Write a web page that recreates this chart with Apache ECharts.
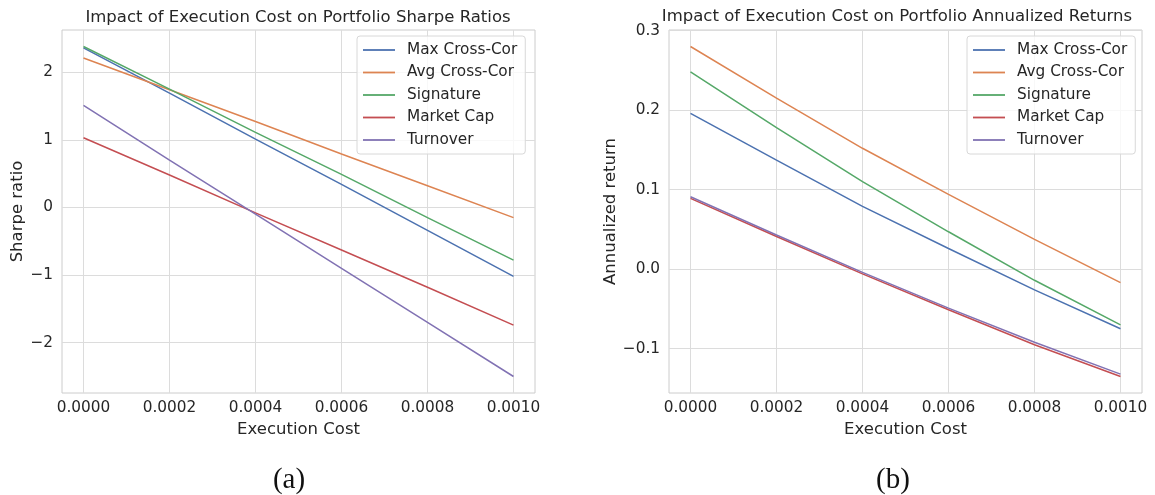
<!DOCTYPE html>
<html><head><meta charset="utf-8">
<script src="https://cdn.jsdelivr.net/npm/echarts@6/dist/echarts.min.js"></script>
<style>html,body{margin:0;padding:0;background:#fff}#c{width:1155px;height:495px}</style>
</head><body><div id="c"></div>
<script>
const costs = [0, 0.0002, 0.0004, 0.0006, 0.0008, 0.001];
const seriesNames = ['Max Cross-Cor', 'Avg Cross-Cor', 'Signature', 'Market Cap', 'Turnover'];
const colors = ['#4c72b0', '#dd8452', '#55a868', '#c44e52', '#8172b3'];

// (a) Sharpe ratios
const sharpeMax = [2.36, 1.69, 1.01, 0.34, -0.34, -1.02];
const sharpeAvg = [2.21, 1.74, 1.27, 0.79, 0.32, -0.15];
const sharpeSig = [2.38, 1.75, 1.11, 0.49, -0.15, -0.78];
const sharpeMcap = [1.03, 0.48, -0.08, -0.63, -1.18, -1.74];
const sharpeTurn = [1.51, 0.70, -0.10, -0.90, -1.70, -2.50];

// (b) Annualized returns
const retMax = [0.196, 0.137, 0.079, 0.026, -0.026, -0.075];
const retAvg = [0.280, 0.215, 0.152, 0.094, 0.0375, -0.017];
const retSig = [0.248, 0.178, 0.110, 0.047, -0.014, -0.070];
const retMcap = [0.089, 0.041, -0.006, -0.051, -0.095, -0.135];
const retTurn = [0.091, 0.043, -0.004, -0.049, -0.092, -0.132];

const xTicks = [0, 0.0002, 0.0004, 0.0006, 0.0008, 0.001];
const sharpeTicks = [-2, -1, 0, 1, 2];
const retTicks = [-0.1, 0, 0.1, 0.2, 0.3];

const sharpeData = [sharpeMax, sharpeAvg, sharpeSig, sharpeMcap, sharpeTurn];
const retData = [retMax, retAvg, retSig, retMcap, retTurn];

const FONT = 'DejaVu Sans';
const TXT = '#262626';
const GRID = '#dcdcdc';

const padMin = v => v.min - 0.05 * (v.max - v.min);
const padMax = v => v.max + 0.05 * (v.max - v.min);
const minus = s => String(s).replace('-', '\u2212');

function xAxis(gi) {
  return {
    type: 'value', gridIndex: gi, min: padMin, max: padMax,
    name: 'Execution Cost', nameLocation: 'middle', nameGap: 25,
    nameTextStyle: { fontFamily: FONT, fontSize: 16.5, color: TXT },
    axisLine: { show: false }, axisTick: { show: false, customValues: xTicks },
    axisLabel: { customValues: xTicks, formatter: v => v.toFixed(4), fontFamily: FONT, fontSize: 15.3, color: TXT, margin: 8 },
    splitLine: { show: true, lineStyle: { color: GRID, width: 1 } }
  };
}
function yAxis(gi, name, ticks, fmt, gap) {
  return {
    type: 'value', gridIndex: gi, min: padMin, max: padMax,
    name: name, nameLocation: 'middle', nameGap: gap,
    nameTextStyle: { fontFamily: FONT, fontSize: 16.5, color: TXT },
    axisLine: { show: false }, axisTick: { show: false, customValues: ticks },
    axisLabel: { customValues: ticks, formatter: v => minus(fmt(v)), fontFamily: FONT, fontSize: 15.3, color: TXT, margin: 9 },
    splitLine: { show: true, lineStyle: { color: GRID, width: 1 } }
  };
}
function legend(left) {
  return {
    left: left, top: 36, orient: 'vertical', data: seriesNames,
    icon: 'rect', itemWidth: 32, itemHeight: 1.8, itemGap: 6.5,
    padding: [6, 8, 6, 6],
    backgroundColor: 'rgba(255,255,255,0.8)', borderColor: '#d8d8d8', borderWidth: 1, borderRadius: 3,
    textStyle: { fontFamily: FONT, fontSize: 15.3, color: TXT, lineHeight: 16, padding: [0, 0, 0, 7] },
    selectedMode: false
  };
}

const series = [];
seriesNames.forEach((n, i) => {
  series.push({ name: n, type: 'line', xAxisIndex: 0, yAxisIndex: 0, showSymbol: false, symbol: 'none',
    lineStyle: { color: colors[i], width: 1.5 }, itemStyle: { color: colors[i] },
    data: costs.map((c, k) => [c, sharpeData[i][k]]) });
});
seriesNames.forEach((n, i) => {
  series.push({ name: n, type: 'line', xAxisIndex: 1, yAxisIndex: 1, showSymbol: false, symbol: 'none',
    lineStyle: { color: colors[i], width: 1.5 }, itemStyle: { color: colors[i] },
    data: costs.map((c, k) => [c, retData[i][k]]) });
});

const chart = echarts.init(document.getElementById('c'), null, { renderer: 'canvas' });
chart.setOption({
  animation: false,
  backgroundColor: '#fff',
  grid: [
    { left: 62, right: 620, top: 30, bottom: 102, show: true, borderColor: '#cccccc', borderWidth: 1, backgroundColor: 'transparent' },
    { left: 669, right: 13, top: 30, bottom: 102, show: true, borderColor: '#cccccc', borderWidth: 1, backgroundColor: 'transparent' }
  ],
  xAxis: [xAxis(0), xAxis(1)],
  yAxis: [
    yAxis(0, 'Sharpe ratio', sharpeTicks, v => String(v), 36),
    yAxis(1, 'Annualized return', retTicks, v => v.toFixed(1), 49)
  ],
  legend: [legend(357), legend(967)],
  graphic: [
    { type: 'text', x: 298, y: 18, style: { text: 'Impact of Execution Cost on Portfolio Sharpe Ratios', fontFamily: FONT, fontSize: 16.5, fill: TXT, align: 'center', verticalAlign: 'middle' } },
    { type: 'text', x: 897, y: 17, style: { text: 'Impact of Execution Cost on Portfolio Annualized Returns', fontFamily: FONT, fontSize: 16.5, fill: TXT, align: 'center', verticalAlign: 'middle' } },
    { type: 'text', x: 289, y: 480, style: { text: '(a)', fontFamily: 'Liberation Serif', fontSize: 29, fill: '#111', align: 'center', verticalAlign: 'middle' } },
    { type: 'text', x: 893, y: 480, style: { text: '(b)', fontFamily: 'Liberation Serif', fontSize: 29, fill: '#111', align: 'center', verticalAlign: 'middle' } }
  ],
  series: series
});
</script></body></html>
